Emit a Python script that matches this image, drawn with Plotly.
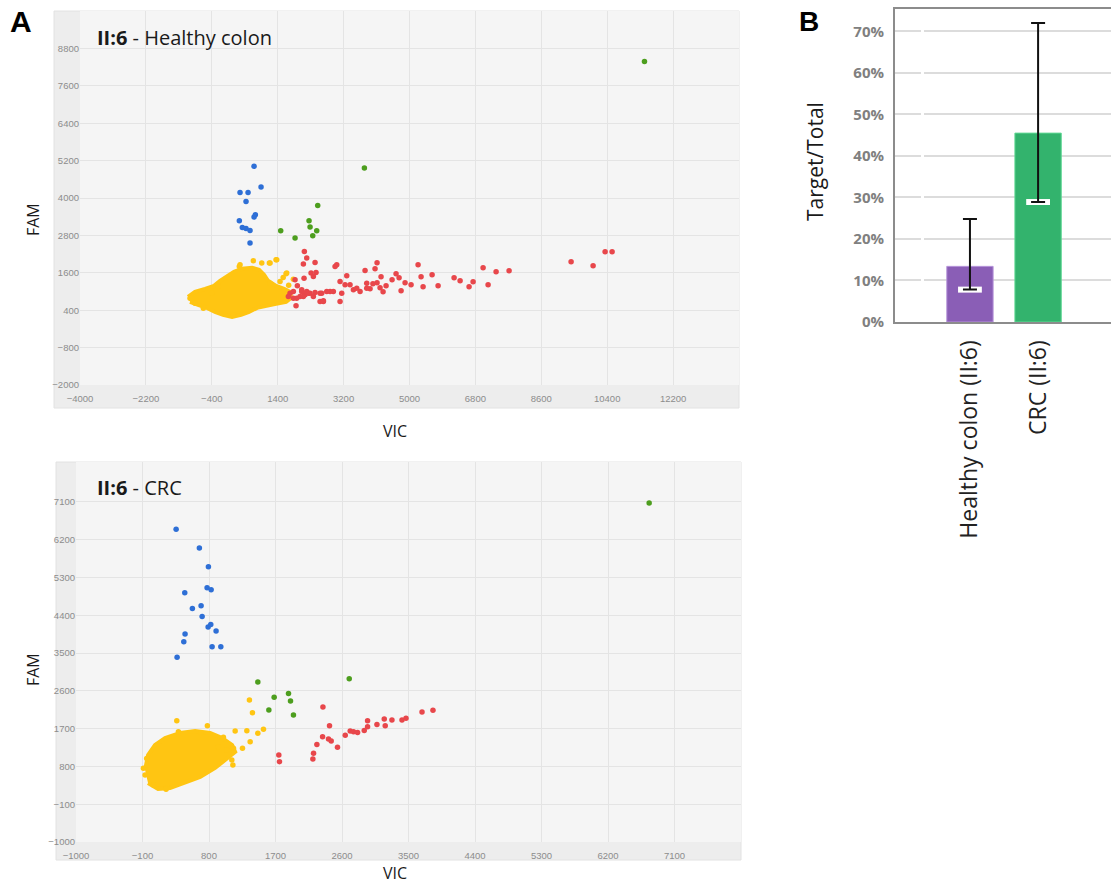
import plotly.graph_objects as go

W, H = 1111, 887

# ---------------- Data: top scatter (II:6 - Healthy colon) ----------------
top_core_x = [-1049, -858, -585, -339, -175, 16, 207, 426, 699, 890, 1027, 1136, 1355, 1574, 1737,
              1765, 1628, 1355, 1082, 836, 617, 399, 153, -93, -312, -530, -776, -995]
top_core_y = [828, 989, 1085, 1182, 1343, 1503, 1632, 1728, 1760, 1696, 1535, 1343, 1182, 1085, 989,
              796, 668, 603, 539, 475, 346, 250, 186, 250, 346, 475, 571, 668]
top_yellow_x = [352, 735, 964, 1172, 1355, 1628, 1828, 1464, -222, -995, -858, -631, 188, 371, 1191,
                1373, 1646, 1191, -949, -404, 1700, 1550]
top_yellow_y = [1802, 1985, 1911, 1911, 2018, 1568, 1397, 1320, 1160, 785, 624, 464, 250, 1857, 1911,
                2018, 1590, 1268, 785, 946, 1200, 1450]
top_red_x = [3923, 4059, 4114, 4114, 4223, 4196, 4278, 4360, 4524, 4633, 4715, 4770, 4879, 5043, 5234,
             5316, 5371, 5617, 5781, 6218, 6382, 6627, 6737, 7010, 7147, 7365, 7720, 9414, 10015, 10343,
             10534, 2128, 2193, 2101, 2420, 2311, 2447, 2374, 1874, 2120, 1937, 2056, 2193, 2284, 2420,
             2557, 1737, 1828, 2010, 2147, 1901, 2557, 2648, 2830, 2967, 3013, 3103, 3240, 3286, 3149,
             3103, 3376, 3468, 3559, 3650, 3786, 3832, 3832, 1692, 1828, 1919, 2056, 2101, 2238, 2374,
             2602, 2739, 2648, 2920, 4000]
top_red_y = [1085, 1728, 1921, 1278, 1471, 1118, 989, 1182, 1375, 1568, 1439, 1021, 1278, 1214, 1857,
             1471, 1150, 1535, 1182, 1439, 1343, 1150, 1311, 1760, 1214, 1632, 1664, 1953, 1825, 2275,
             2275, 2284, 2072, 1879, 1931, 1590, 1610, 1481, 1375, 1429, 1182, 1053, 999, 946, 967,
             946, 946, 785, 838, 893, 539, 678, 678, 999, 1802, 1857, 1320, 1214, 1503, 946,
             678, 1214, 1053, 1107, 999, 1674, 1268, 1107, 838, 999, 785, 999, 838, 946, 838,
             946, 999, 700, 999, 1250]
top_green_x = [1482, 1874, 2256, 2284, 2466, 2357, 2493, 3768, 11418]
top_green_y = [2949, 2715, 3271, 3069, 2949, 2789, 3763, 4963, 8381]
top_blue_x = [754, 945, 371, 590, 535, 790, 754, 352, 434, 535, 644, 644]
top_blue_y = [5016, 4351, 4178, 4178, 3891, 3464, 3387, 3271, 3056, 3024, 2960, 2553]
top_xticks = [-4000, -2200, -400, 1400, 3200, 5000, 6800, 8600, 10400, 12200]
top_yticks = [-2000, -800, 400, 1600, 2800, 4000, 5200, 6400, 7600, 8800]

# ---------------- Data: bottom scatter (II:6 - CRC) ----------------
bot_core_x = [-65, -25, 70, 206, 409, 612, 815, 978, 1113, 1154, 1018, 883, 680, 476, 273, 111, -25]
bot_core_y = [715, 1072, 1311, 1477, 1596, 1644, 1596, 1477, 1311, 1144, 953, 763, 548, 405, 286, 262, 405]
bot_yellow_x = [364, 386, 778, 689, 995, 1154, 1312, 1347, 1388, 1461, 1537, 1253, 1357, 1131, 1041,
                1109, 1123, 927, -88, -65, 47, 219, -43, 57, 219]
bot_yellow_y = [1889, 1627, 1770, 1603, 1494, 1644, 1651, 2382, 2080, 1589, 1684, 1232, 1389, 1232, 1191,
                953, 834, 1270, 755, 596, 358, 279, 989, 358, 256]
bot_red_x = [1745, 1754, 2342, 2431, 2337, 2260, 2215, 2206, 2417, 2454, 2539, 2644, 2711, 2756, 2811,
             2901, 2946, 2946, 3073, 3172, 3185, 3276, 3412, 3466, 3683, 3831]
bot_red_y = [1072, 913, 2216, 1770, 1508, 1324, 1113, 977, 1453, 1406, 1256, 1541, 1644, 1627, 1608,
             1656, 1889, 1746, 1799, 1930, 1770, 1906, 1906, 1946, 2097, 2137]
bot_green_x = [1461, 1682, 1610, 1876, 1903, 1943, 2698, 6757]
bot_green_y = [2811, 2447, 2144, 2537, 2359, 2025, 2890, 7075]
bot_blue_x = [355, 670, 792, 472, 774, 829, 575, 693, 707, 788, 824, 896, 476, 459, 842, 960, 368]
bot_blue_y = [6449, 6003, 5558, 4938, 5055, 5007, 4562, 4626, 4372, 4121, 4181, 4026, 3955, 3772, 3652,
              3652, 3400]
bot_xticks = [-1000, -100, 800, 1700, 2600, 3500, 4400, 5300, 6200, 7100]
bot_yticks = [-1000, -100, 800, 1700, 2600, 3500, 4400, 5300, 6200, 7100]

# ---------------- Data: bar chart B ----------------
bar_categories = ["Healthy colon (II:6)", "CRC (II:6)"]
bar_values = [0.134, 0.455]
err_upper = [0.248, 0.720]
err_lower = [0.078, 0.289]
bar_colors = ["#8a5eb6", "#33b36d"]
bar_edge = ["#b795da", "#5fd894"]

YELLOW = "#ffc512"
RED = "#e8474b"
GREEN = "#4d9e1e"
BLUE = "#2e6fd6"

fig = go.Figure()

def px_x(p):
    return p / W

def px_y(p):
    return 1 - p / H

MS = 5.5

def add_scatter(xa, ya, core_x, core_y, yx, yy, rx, ry, gx, gy, bx, by):
    fig.add_trace(go.Scatter(x=core_x, y=core_y, xaxis=xa, yaxis=ya, mode="lines", fill="toself",
                             fillcolor=YELLOW, line=dict(color=YELLOW, width=4),
                             hoverinfo="skip", showlegend=False))
    for xs, ys, c in [(yx, yy, YELLOW), (rx, ry, RED), (gx, gy, GREEN), (bx, by, BLUE)]:
        fig.add_trace(go.Scatter(x=xs, y=ys, xaxis=xa, yaxis=ya, mode="markers",
                                 marker=dict(color=c, size=MS, line=dict(width=0)),
                                 showlegend=False))

add_scatter("x", "y", top_core_x, top_core_y, top_yellow_x, top_yellow_y, top_red_x, top_red_y,
            top_green_x, top_green_y, top_blue_x, top_blue_y)
add_scatter("x2", "y2", bot_core_x, bot_core_y, bot_yellow_x, bot_yellow_y, bot_red_x, bot_red_y,
            bot_green_x, bot_green_y, bot_blue_x, bot_blue_y)

# Bars
plus = [u - v for u, v in zip(err_upper, bar_values)]
minus = [v - l for v, l in zip(bar_values, err_lower)]
fig.add_trace(go.Bar(x=bar_categories, y=bar_values, xaxis="x3", yaxis="y3", width=0.68,
                     marker=dict(color=bar_colors, line=dict(color=bar_edge, width=1)),
                     showlegend=False))
# white halo behind the lower caps
fig.add_trace(go.Scatter(x=bar_categories, y=err_lower, xaxis="x3", yaxis="y3", mode="markers",
                         marker=dict(symbol="line-ew-open", size=17, color="white",
                                     line=dict(color="white", width=6)),
                         showlegend=False, hoverinfo="skip"))
fig.add_trace(go.Scatter(x=bar_categories, y=bar_values, xaxis="x3", yaxis="y3", mode="markers",
                         marker=dict(size=0.1, color="rgba(0,0,0,0)"),
                         error_y=dict(type="data", symmetric=False, array=plus, arrayminus=minus,
                                      color="#111111", thickness=2, width=7),
                         showlegend=False, hoverinfo="skip"))

tickf = dict(family="Arial", size=9.5, color="#8c8c8c")
grid = "#e4e4e4"

def sc_axes(xd, yd, xr, yr, xt, yt):
    xa = dict(domain=xd, range=xr, tickvals=xt, tickformat="d", showgrid=True, gridcolor=grid,
              gridwidth=1, zeroline=False, showline=False, ticks="", tickfont=tickf, fixedrange=True,
              ticklabelstandoff=6, automargin=False)
    ya = dict(domain=yd, range=yr, tickvals=yt, tickformat="d", showgrid=True, gridcolor=grid,
              gridwidth=1, zeroline=False, showline=False, ticks="", tickfont=tickf, fixedrange=True,
              ticklabelstandoff=0, automargin=False)
    return xa, ya

xa1, ya1 = sc_axes([px_x(80), px_x(739)], [px_y(385), px_y(11)], [-4000, 14000], [-2000, 10000],
                   top_xticks, top_yticks)
xa2, ya2 = sc_axes([px_x(76), px_x(741)], [px_y(842), px_y(462)], [-1000, 8000], [-1000, 8050],
                   bot_xticks, bot_yticks)
ya2["anchor"] = "x2"
xa2["anchor"] = "y2"

xa3 = dict(domain=[px_x(895), 1.0], range=[-1.1, 2.07], anchor="y3", showgrid=False, zeroline=False,
           showline=True, linecolor="#8c8c8c", linewidth=2, mirror=True, ticks="", tickangle=-90,
           tickfont=dict(family="Open Sans", size=23, color="#222222"), ticklabelstandoff=7,
           fixedrange=True, automargin=False)
ya3 = dict(domain=[px_y(322), px_y(9)], range=[0, 0.754], anchor="x3", dtick=0.1, tickformat=".0%",
           showgrid=True, gridcolor="#dcdcdc", gridwidth=2, zeroline=False, showline=True,
           linecolor="#8c8c8c", linewidth=2, ticks="",
           tickfont=dict(family="Open Sans", size=15, color="#808080", weight="bold"),
           ticklabelstandoff=6, fixedrange=True, automargin=False)

shapes = []
for (l, t, r, b, pl, pb) in [(54, 11, 739, 408, 80, 385), (56, 462, 741, 860, 76, 842)]:
    shapes.append(dict(type="rect", xref="paper", yref="paper", x0=px_x(l), x1=px_x(r),
                       y0=px_y(b), y1=px_y(t), fillcolor="#ededed", line=dict(color="#e2e2e2", width=1),
                       layer="below"))
    shapes.append(dict(type="rect", xref="paper", yref="paper", x0=px_x(pl), x1=px_x(r),
                       y0=px_y(pb), y1=px_y(t), fillcolor="#f5f5f5", line=dict(width=0),
                       layer="below"))
# small break in bar-chart gridlines
shapes.append(dict(type="rect", xref="paper", yref="paper", x0=px_x(921), x1=px_x(924),
                   y0=px_y(318), y1=px_y(13), fillcolor="white", line=dict(width=0), layer="above"))

ann = []
def text(x, y, s, size, color="#1a1a1a", family="Open Sans", angle=0, xanchor="left"):
    ann.append(dict(x=px_x(x), y=px_y(y), xref="paper", yref="paper", text=s, showarrow=False,
                    font=dict(family=family, size=size, color=color), textangle=angle,
                    xanchor=xanchor, yanchor="middle"))

text(8, 22, "<b>A</b>", 30, color="#000000", family="Arial")
text(797, 22, "<b>B</b>", 28, color="#000000", family="Arial")
text(95, 37, "<b>II:6</b> - Healthy colon", 20)
text(95, 488, "<b>II:6</b> - CRC", 20)
text(33, 220, "FAM", 16, angle=-90, xanchor="center")
text(33, 670, "FAM", 16, angle=-90, xanchor="center")
text(395, 431, "VIC", 16, xanchor="center")
text(395, 873, "VIC", 16, xanchor="center")
text(815, 162, "Target/Total", 21, angle=-90, xanchor="center")

fig.update_layout(
    width=W, height=H, margin=dict(l=0, r=0, t=0, b=0, autoexpand=False),
    paper_bgcolor="white", plot_bgcolor="rgba(0,0,0,0)",
    xaxis=xa1, yaxis=ya1, xaxis2=xa2, yaxis2=ya2, xaxis3=xa3, yaxis3=ya3,
    shapes=shapes, annotations=ann, showlegend=False,
)

fig.write_html("out.html", config={"displayModeBar": False},
               post_script="document.body.style.margin='0px';document.body.style.overflow='hidden';")
